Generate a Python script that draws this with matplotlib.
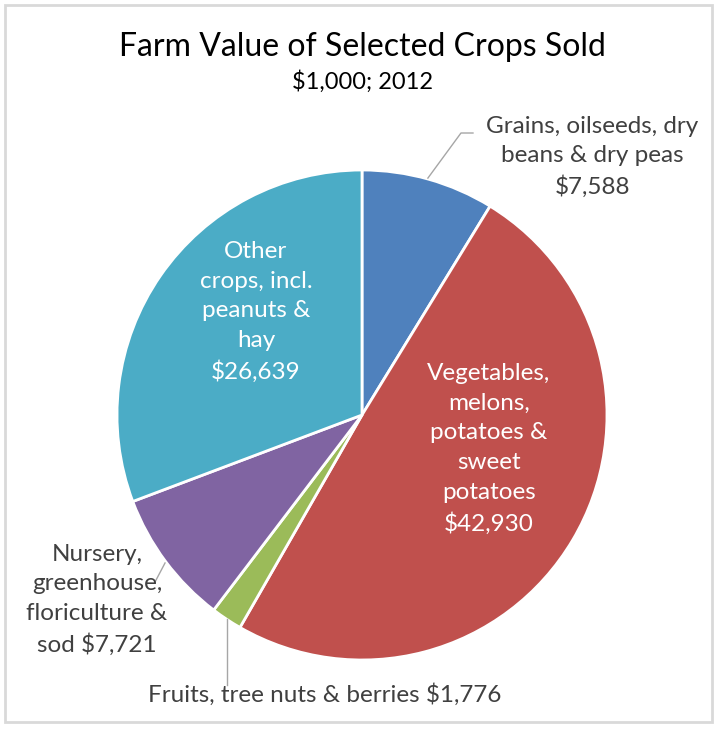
import matplotlib
matplotlib.use("Agg")
import matplotlib.pyplot as plt
from matplotlib.patches import Rectangle

plt.rcParams['font.family'] = ['Lato', 'DejaVu Sans']

categories = [
    "Grains, oilseeds, dry\nbeans & dry peas",
    "Vegetables,\nmelons,\npotatoes &\nsweet\npotatoes",
    "Fruits, tree nuts & berries",
    "Nursery,\ngreenhouse,\nfloriculture &\nsod",
    "Other\ncrops, incl.\npeanuts &\nhay",
]
values = [7588, 42930, 1776, 7721, 26639]
colors = ["#4F81BD", "#C0504D", "#9BBB59", "#8064A2", "#4BACC6"]


def money(v):
    return f"${v:,}"


fig = plt.figure(figsize=(7.17, 7.29), dpi=100)
fig.patches.append(Rectangle((0.007, 0.009), 0.986, 0.984, transform=fig.transFigure,
                             fill=False, edgecolor="#d9d9d9", linewidth=2))

ax = fig.add_axes([117 / 717, 69 / 729, 490 / 717, 490 / 729])
ax.pie(values, colors=colors, startangle=90, counterclock=False,
       wedgeprops=dict(edgecolor="white", linewidth=2))
ax.set_xlim(-1, 1)
ax.set_ylim(-1, 1)
ax.set_aspect("auto")
ax.axis("off")

line_color = "#a6a6a6"
text_color = "#404040"
fs = 17.5

# inside labels
ax.text(0.518, -0.139, f"{categories[1]}\n{money(values[1])}", ha="center", va="center",
        color="white", fontsize=fs, linespacing=1.51)
ax.text(-0.433, 0.420, f"{categories[4]}\n{money(values[4])}", ha="center", va="center",
        color="white", fontsize=fs, linespacing=1.51)

# outside labels with leader lines
ax.plot([0.269, 0.404, 0.453], [0.967, 1.151, 1.151], color=line_color, lw=1, clip_on=False)
ax.text(0.939, 1.053, f"{categories[0]}\n{money(values[0])}", ha="center", va="center",
        color=text_color, fontsize=fs, linespacing=1.46)

ax.plot([-0.804, -0.845], [-0.604, -0.682], color=line_color, lw=1, clip_on=False)
ax.text(-1.082, -0.755, f"{categories[3]} {money(values[3])}", ha="center", va="center",
        color=text_color, fontsize=fs, linespacing=1.51)

ax.plot([-0.553, -0.553], [-0.833, -1.102], color=line_color, lw=1, clip_on=False)
ax.text(-0.151, -1.14, f"{categories[2]} {money(values[2])}", ha="center", va="center",
        color=text_color, fontsize=fs)

fig.text(0.505, 0.9355, "Farm Value of Selected Crops Sold", ha="center", va="center",
         fontsize=23, color="black")
fig.text(0.505, 0.8875, "$1,000; 2012", ha="center", va="center", fontsize=17, color="black")

fig.savefig("out.png", dpi=100)
